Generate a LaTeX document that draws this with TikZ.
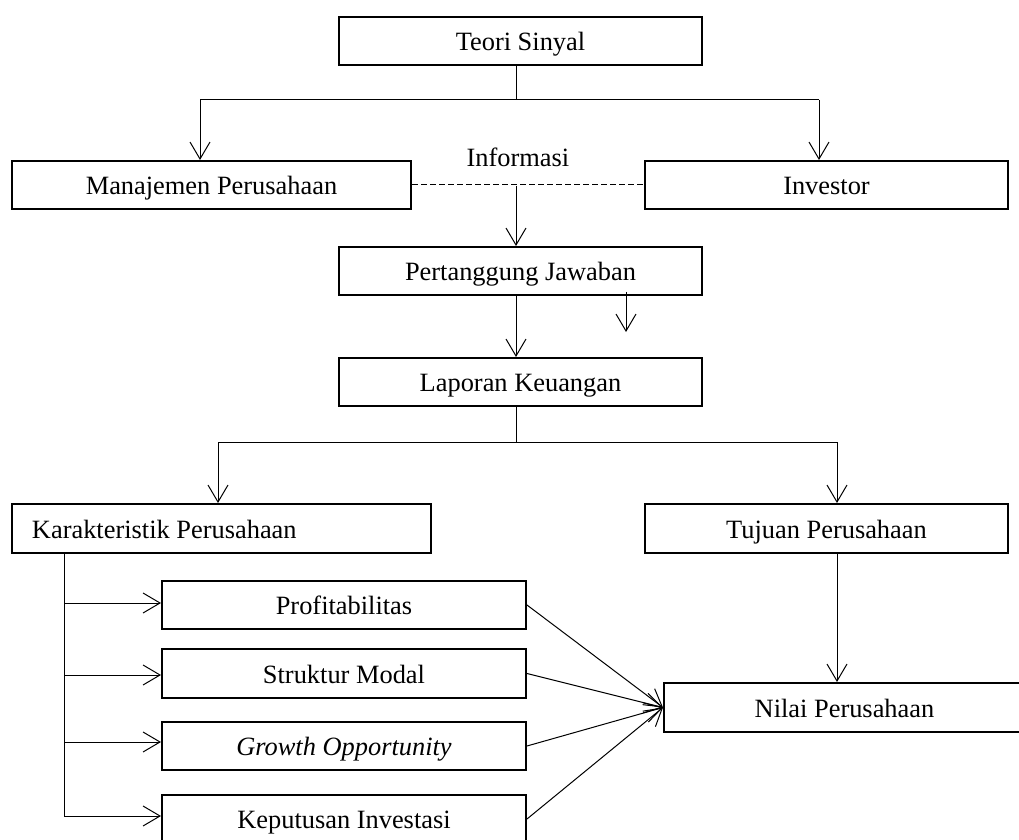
\documentclass[tikz,border=0pt]{standalone}
\usepackage{fontspec}
\setmainfont{Liberation Serif}
\usetikzlibrary{arrows.meta}
\begin{document}
\begin{tikzpicture}[x=0.5pt,y=-0.5pt,
  txt/.style={font=\fontsize{13.2}{15}\selectfont},
  box/.style={txt,draw,line width=1pt,minimum height=24pt,inner sep=0pt,text height=11pt,text depth=1.4pt},
  conn/.style={line width=0.5pt},
  arr/.style={conn,-{Straight Barb[length=8.5pt,width=10pt,line width=0.5pt]}}]
\useasboundingbox (0,0) rectangle (1019,840);
\clip (0,0) rectangle (1019,840);
% boxes
\node[box,minimum width=181.5pt] (ts) at (520.5,41) {Teori Sinyal};
\node[box,minimum width=199.5pt] (mp) at (211.5,185) {Manajemen Perusahaan};
\node[box,minimum width=181.5pt] (inv) at (826.5,185) {Investor};
\node[box,minimum width=181.5pt] (pj) at (520.5,271) {Pertanggung Jawaban};
\node[box,minimum width=181.5pt] (lk) at (520.5,382) {Laporan Keuangan};
\node[box,minimum height=24.5pt,text width=189.5pt,inner xsep=10pt,align=flush left] (kp) at (221.5,528.5) {Karakteristik Perusahaan};
\node[box,minimum width=181.5pt,minimum height=24.5pt] (tp) at (826.5,528.5) {Tujuan Perusahaan};
\node[box,minimum width=182pt] (pr) at (344,605) {Profitabilitas};
\node[box,minimum width=182pt,minimum height=24.5pt] (sm) at (344,673.5) {Struktur Modal};
\node[box,minimum width=182pt] (go) at (344,746) {\itshape Growth Opportunity};
\node[box,minimum width=182pt] (ki) at (344,819) {Keputusan Investasi};
\node[box,minimum width=180.5pt,minimum height=24.5pt] (nv) at (844.5,707.5) {Nilai Perusahaan};
\node[txt,anchor=base] (info) at (518,167) {Informasi};
% top split
\coordinate (t1) at (516,100);
\coordinate (tl) at (200,100);
\coordinate (tr) at (819,100);
\draw[conn] (ts.south -| t1) -- (t1);
\draw[conn] (tl) -- (tr);
\draw[arr] (tl) -- (tl |- mp.north);
\draw[arr] (tr) -- (tr |- inv.north);
% information
\draw[conn,dashed,dash pattern=on 3pt off 1.5pt] (mp.east) -- (inv.west);
\coordinate (i1) at (516,186);
\draw[arr] (i1) -- (i1 |- pj.north);
\draw[arr] (pj.south -| i1) -- (lk.north -| i1);
\coordinate (s1) at (626,292);
\coordinate (s2) at (626,332);
\draw[arr] (s1) -- (s2);
% second split
\coordinate (l1) at (516,442);
\coordinate (ll) at (218,442);
\coordinate (lr) at (837,442);
\draw[conn] (lk.south -| l1) -- (l1);
\draw[conn] (ll) -- (lr);
\draw[arr] (ll) -- (ll |- kp.north);
\draw[arr] (lr) -- (lr |- tp.north);
% characteristics
\coordinate (k0) at (64,553);
\coordinate (k1) at (64,603);
\coordinate (k2) at (64,675);
\coordinate (k3) at (64,742);
\coordinate (k4) at (64,816);
\draw[conn] (k0) -- (k4);
\draw[arr] (k1) -- (k1 -| pr.west);
\draw[arr] (k2) -- (k2 -| sm.west);
\draw[arr] (k3) -- (k3 -| go.west);
\draw[arr] (k4) -- (k4 -| ki.west);
% to firm value
\draw[arr] (tp.south -| lr) -- (nv.north -| lr);
\draw[arr] (pr.east) -- (nv.west);
\draw[arr] (sm.east) -- (nv.west);
\draw[arr] (go.east) -- (nv.west);
\draw[arr] (ki.east) -- (nv.west);
\end{tikzpicture}
\end{document}
